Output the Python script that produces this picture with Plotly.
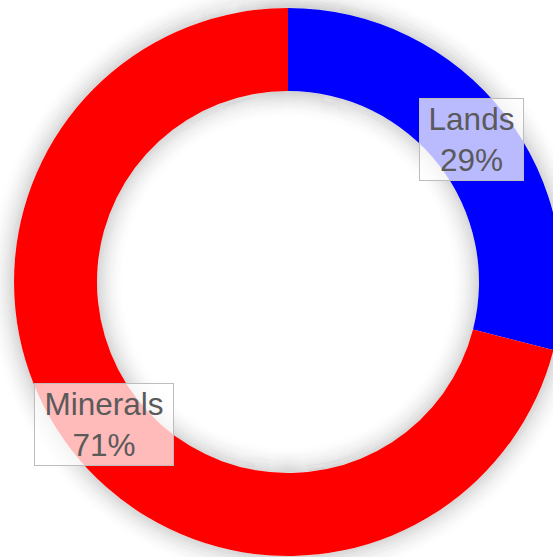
import math
import plotly.graph_objects as go

# Share of holdings by asset type
labels = ["Lands", "Minerals"]
values = [29, 71]
colors = ["#0000ff", "#ff0000"]

HOLE = 0.697
W, H = 562, 557
M_L, M_R, M_T, M_B = 14, 0, 8, 1
DOMAIN_PX = min(W - M_L - M_R, H - M_T - M_B)
R_OUT = DOMAIN_PX / 2
R_IN = R_OUT * HOLE

fig = go.Figure(
    go.Pie(
        labels=labels,
        values=values,
        hole=HOLE,
        sort=False,
        direction="clockwise",
        rotation=0,
        marker=dict(colors=colors, line=dict(width=0)),
        textinfo="none",
        hoverinfo="label+percent",
        showlegend=False,
    )
)

# Soft drop shadow around the ring, built from faint concentric outlines
shapes = []
for i in range(32):
    d = i + 0.5
    a = 0.13 * max(0.0, 1 - d / 30) ** 2
    for r in (R_OUT + d, R_IN - d):
        shapes.append(dict(
            type="circle", layer="below",
            xref="paper", yref="paper",
            xsizemode="pixel", ysizemode="pixel",
            xanchor=0.5, yanchor=0.5,
            x0=-r, x1=r, y0=-r, y1=r,
            line=dict(color=f"rgba(0,0,0,{a:.4f})", width=1.3),
            fillcolor="rgba(0,0,0,0)",
        ))

# Boxed labels in the middle of each slice
total = sum(values)
annotations = []
cum = 0
r_mid = (R_OUT + R_IN) / 2
for lab, v in zip(labels, values):
    theta = 2 * math.pi * (cum + v / 2) / total
    cum += v
    x = 0.5 + r_mid * math.sin(theta) / DOMAIN_PX
    y = 0.5 + r_mid * math.cos(theta) / DOMAIN_PX
    box_w = 101 if lab == "Lands" else 136
    annotations.append(dict(
        x=x, y=y, xref="paper", yref="paper",
        xanchor="center", yanchor="middle",
        text=f"{lab}<br>{round(100 * v / total)}%",
        showarrow=False,
        font=dict(family="Arial, Liberation Sans, sans-serif", size=31.5, color="#5a5a5a"),
        bgcolor="rgba(255,255,255,0.73)",
        bordercolor="#bdbdbd",
        borderwidth=1,
        borderpad=1,
        width=box_w,
        height=79,
    ))

fig.update_layout(
    width=W, height=H,
    margin=dict(l=M_L, r=M_R, t=M_T, b=M_B),
    paper_bgcolor="white",
    plot_bgcolor="white",
    shapes=shapes,
    annotations=annotations,
)

fig.write_html(
    "out.html",
    post_script="document.body.style.margin='0';document.body.style.overflow='hidden';",
)
